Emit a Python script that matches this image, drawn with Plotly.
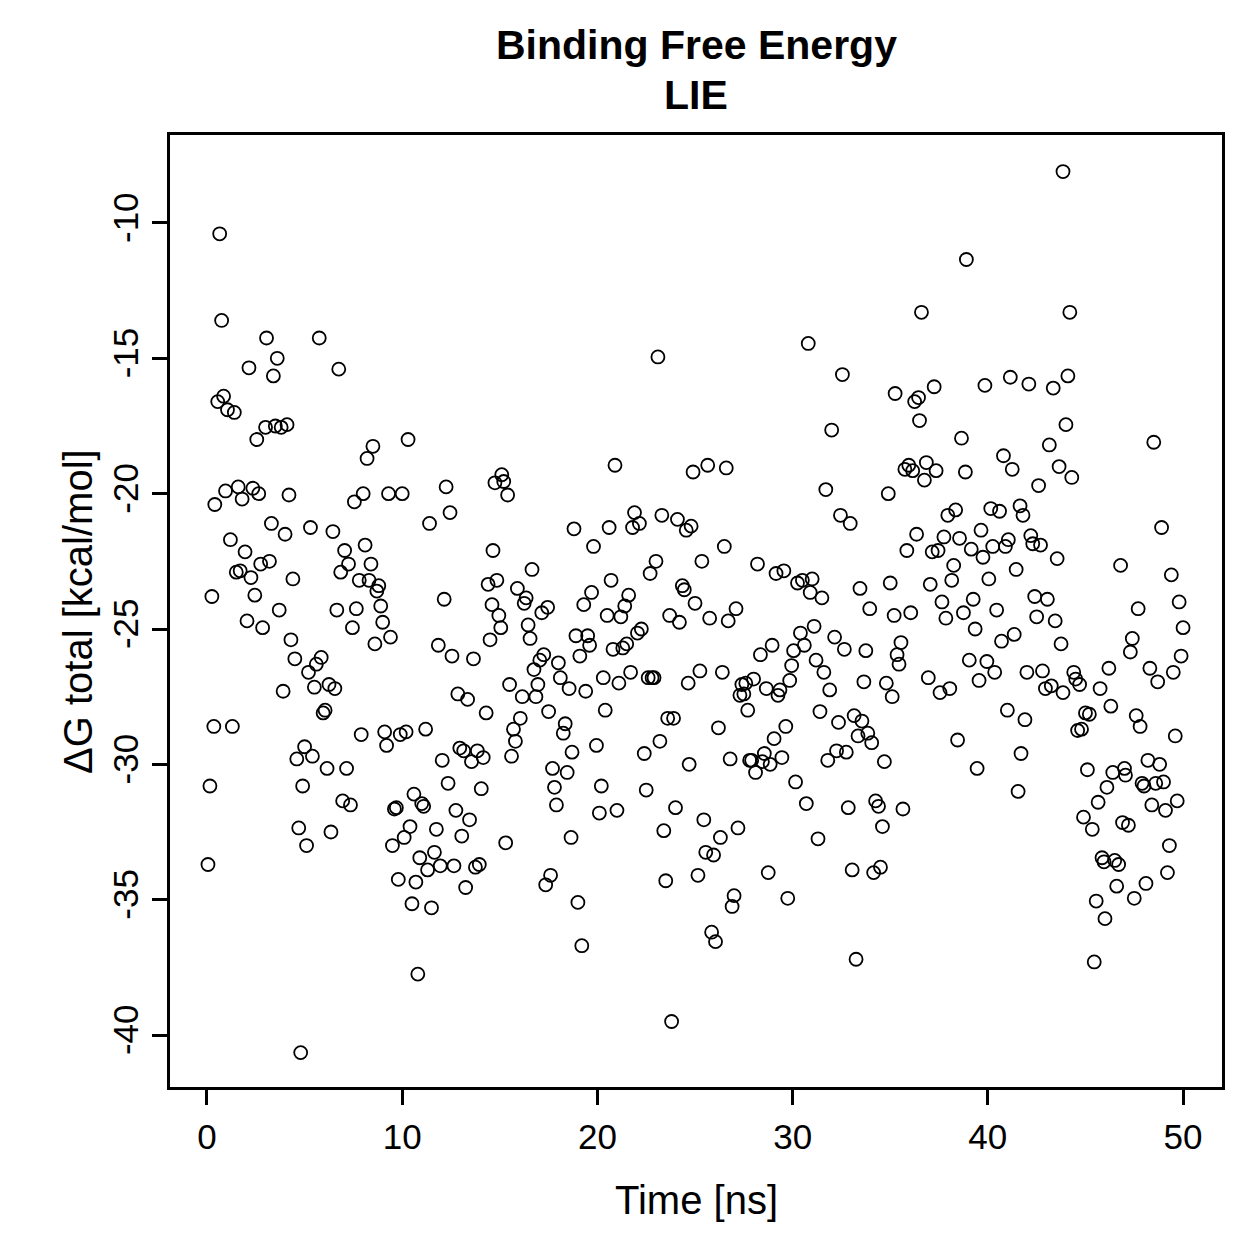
import plotly.graph_objects as go

time_ns = [0.05,0.15,0.25,0.4,0.35,0.55,0.65,0.75,0.85,0.95,1.05,1.2,1.3,1.4,1.5,1.6,1.7,1.8,1.95,2.05,
2.15,2.25,2.35,2.45,2.55,2.65,2.75,2.85,3.0,3.05,3.2,3.3,3.4,3.5,3.6,3.7,3.8,3.9,4.0,4.1,
4.2,4.3,4.4,4.5,4.6,4.7,4.8,4.9,5.0,5.1,5.2,5.3,5.4,5.5,5.6,5.75,5.85,5.95,6.05,6.15,
6.25,6.35,6.45,6.55,6.65,6.75,6.85,6.95,7.05,7.15,7.25,7.35,7.45,7.55,7.65,7.8,7.9,8.0,8.1,8.2,
8.3,8.4,8.5,8.6,8.7,8.8,8.9,9.0,9.1,9.2,9.3,9.4,9.5,9.6,9.7,9.8,9.9,10.0,10.1,10.2,
10.3,10.4,10.5,10.6,10.7,10.8,10.9,11.0,11.1,11.2,11.3,11.4,11.5,11.65,11.75,11.85,11.95,12.05,12.15,12.25,
12.35,12.45,12.55,12.65,12.75,12.85,12.95,13.05,13.15,13.25,13.35,13.45,13.55,13.65,13.75,13.85,13.95,14.05,14.15,14.3,
14.4,14.5,14.6,14.65,14.75,14.85,14.95,15.05,15.1,15.2,15.3,15.4,15.5,15.6,15.7,15.8,15.9,16.05,16.15,16.25,
16.35,16.45,16.55,16.65,16.75,16.85,16.95,17.05,17.15,17.25,17.35,17.45,17.5,17.6,17.7,17.8,17.9,18.0,18.1,18.25,
18.35,18.45,18.55,18.65,18.7,18.8,18.9,19.0,19.1,19.2,19.3,19.4,19.5,19.6,19.7,19.8,19.95,20.1,20.2,20.3,
20.4,20.5,20.6,20.7,20.8,20.9,21.0,21.1,21.2,21.3,21.4,21.5,21.6,21.7,21.8,21.9,22.05,22.15,22.25,22.4,
22.5,22.6,22.7,22.8,22.9,23.0,23.1,23.2,23.3,23.4,23.5,23.6,23.7,23.8,23.9,24.0,24.1,24.2,24.35,24.45,
24.55,24.65,24.7,24.8,24.9,25.0,25.15,25.25,25.35,25.45,25.55,25.65,25.75,25.85,25.95,26.05,26.2,26.3,26.4,26.5,
26.6,26.7,26.8,26.9,27.0,27.1,27.2,27.3,27.4,27.5,27.6,27.7,27.8,27.9,28.0,28.1,28.2,28.35,28.45,28.55,
28.65,28.75,28.85,28.95,29.05,29.15,29.25,29.35,29.45,29.55,29.65,29.75,29.85,29.95,30.05,30.15,30.25,30.4,30.5,30.6,
30.7,30.8,30.9,31.0,31.1,31.2,31.3,31.4,31.5,31.6,31.7,31.8,31.9,32.0,32.15,32.25,32.35,32.45,32.55,32.65,
32.75,32.85,32.95,33.05,33.15,33.25,33.35,33.45,33.55,33.65,33.75,33.85,33.95,34.05,34.15,34.25,34.4,34.5,34.6,34.7,
34.8,34.9,35.0,35.1,35.2,35.25,35.35,35.45,35.55,35.65,35.75,35.85,35.95,36.05,36.15,36.25,36.35,36.45,36.5,36.6,
36.75,36.85,36.95,37.05,37.15,37.25,37.35,37.45,37.55,37.65,37.75,37.85,37.95,38.05,38.15,38.25,38.35,38.45,38.55,38.65,
38.75,38.85,38.9,39.05,39.15,39.25,39.35,39.45,39.55,39.65,39.75,39.85,39.95,40.05,40.15,40.25,40.35,40.45,40.6,40.7,
40.8,40.9,41.0,41.05,41.15,41.25,41.35,41.45,41.55,41.65,41.7,41.8,41.9,42.0,42.1,42.2,42.3,42.4,42.5,42.6,
42.7,42.8,42.95,43.05,43.15,43.25,43.35,43.45,43.55,43.65,43.75,43.85,43.85,44.0,44.1,44.2,44.3,44.4,44.5,44.6,
44.7,44.8,44.9,45.0,45.1,45.2,45.35,45.45,45.55,45.65,45.75,45.85,45.95,46.0,46.1,46.2,46.3,46.4,46.5,46.6,
46.7,46.8,46.9,47.0,47.05,47.2,47.3,47.4,47.5,47.6,47.7,47.8,47.9,48.0,48.1,48.2,48.3,48.4,48.5,48.6,
48.7,48.8,48.9,49.0,49.1,49.2,49.3,49.4,49.5,49.6,49.7,49.8,49.9,50.0]

dg_total = [-33.7,-30.8,-23.8,-20.4,-28.6,-16.6,-10.4,-13.6,-16.4,-19.9,-16.9,-21.7,-28.6,-17.0,-22.9,-19.75,-22.85,-20.2,-22.15,-24.7,
-15.35,-23.1,-19.8,-23.75,-18.0,-20.0,-22.6,-24.95,-17.55,-14.25,-22.5,-21.1,-15.65,-17.5,-15.0,-24.3,-17.55,-27.3,-21.5,-17.45,
-20.05,-25.4,-23.15,-26.1,-29.8,-32.35,-40.65,-30.8,-29.35,-33.0,-26.6,-21.25,-29.7,-27.15,-26.3,-14.25,-26.05,-28.1,-28.0,-30.15,
-27.05,-32.5,-21.4,-27.2,-24.3,-15.4,-22.9,-31.35,-22.1,-30.15,-22.6,-31.5,-24.95,-20.3,-24.25,-23.2,-28.9,-20.0,-21.9,-18.7,
-23.2,-22.6,-18.25,-25.55,-23.6,-23.4,-24.15,-24.75,-28.8,-29.3,-20.0,-25.3,-33.0,-31.65,-31.6,-34.25,-28.9,-20.0,-32.7,-28.8,
-18.0,-32.3,-35.15,-31.1,-34.35,-37.75,-33.45,-31.45,-31.55,-28.7,-33.9,-21.1,-35.3,-33.25,-32.4,-25.6,-33.75,-29.85,-23.9,-19.75,
-30.7,-20.7,-26.0,-33.75,-31.7,-27.4,-29.4,-32.65,-29.5,-34.55,-27.6,-32.05,-29.9,-26.1,-33.8,-29.5,-33.7,-30.9,-29.75,-28.1,
-23.35,-25.4,-24.1,-22.1,-19.6,-23.2,-24.5,-24.95,-19.3,-19.55,-32.9,-20.05,-27.05,-29.7,-28.7,-29.15,-23.5,-28.3,-27.5,-24.05,
-23.85,-24.85,-25.35,-22.8,-26.5,-27.5,-27.05,-26.15,-24.4,-25.95,-34.45,-24.2,-28.05,-34.1,-30.15,-30.85,-31.5,-26.25,-26.8,-28.85,
-28.5,-30.3,-27.2,-32.7,-29.55,-21.3,-25.25,-35.1,-26.0,-36.7,-24.1,-27.3,-25.25,-25.6,-23.65,-21.95,-29.3,-31.8,-30.8,-26.8,
-28.0,-24.5,-21.25,-23.2,-25.75,-18.95,-31.7,-27.0,-24.55,-25.7,-24.15,-25.55,-23.75,-26.6,-21.25,-20.7,-25.15,-21.1,-25.0,-29.6,
-30.95,-26.8,-22.95,-26.8,-26.8,-22.5,-14.95,-29.15,-20.8,-32.45,-34.3,-28.3,-24.5,-39.5,-28.3,-31.6,-20.95,-24.75,-23.4,-23.55,
-21.35,-27.0,-30.0,-21.2,-19.2,-24.05,-34.1,-26.55,-22.5,-32.05,-33.25,-18.95,-24.6,-36.2,-33.35,-36.55,-28.65,-32.7,-26.6,-21.95,
-19.05,-24.7,-29.8,-35.25,-34.85,-24.25,-32.35,-27.45,-27.05,-27.4,-27.0,-28.0,-29.85,-29.85,-26.85,-30.3,-22.6,-25.95,-29.9,-29.6,
-27.2,-34.0,-30.0,-25.6,-29.05,-22.95,-27.45,-27.25,-29.75,-22.85,-28.6,-34.95,-26.9,-26.35,-25.8,-30.65,-23.3,-25.15,-23.2,-25.6,
-31.45,-14.45,-23.65,-23.15,-24.9,-26.15,-32.75,-28.05,-23.85,-26.6,-19.85,-29.85,-27.25,-17.65,-25.3,-29.5,-28.45,-20.8,-15.6,-25.75,
-29.55,-31.6,-21.1,-33.9,-28.2,-37.2,-28.95,-23.5,-28.4,-26.95,-25.8,-28.85,-24.25,-29.2,-34.0,-31.35,-31.55,-33.8,-32.3,-29.9,
-27.0,-20.0,-23.3,-27.5,-24.5,-16.3,-25.95,-26.3,-25.5,-31.65,-19.1,-22.1,-18.95,-24.4,-19.15,-16.6,-21.5,-16.45,-17.3,-13.3,
-19.5,-18.85,-26.8,-23.35,-22.15,-16.05,-19.15,-22.1,-27.35,-24.0,-21.6,-24.6,-20.8,-27.2,-23.2,-22.65,-20.6,-29.1,-21.65,-17.95,
-24.4,-19.2,-11.35,-26.15,-22.05,-23.9,-25.0,-30.15,-26.9,-21.35,-22.35,-16.0,-26.2,-23.15,-20.55,-21.95,-26.6,-24.3,-20.65,-25.45,
-18.6,-21.95,-28.0,-21.7,-15.7,-19.1,-25.2,-22.8,-31.0,-20.45,-29.6,-20.8,-28.35,-26.6,-15.95,-21.55,-21.85,-23.8,-24.55,-19.7,
-21.9,-26.55,-27.2,-23.9,-18.2,-27.1,-16.1,-24.7,-22.4,-19.0,-25.55,-27.35,-8.1,-17.45,-15.65,-13.3,-19.4,-26.6,-26.85,-28.75,
-27.05,-28.7,-31.95,-28.1,-30.2,-28.15,-32.4,-37.3,-35.05,-31.4,-27.2,-33.45,-33.6,-35.7,-30.85,-26.45,-27.85,-30.3,-33.55,-34.5,
-33.7,-22.65,-32.15,-30.15,-30.4,-32.25,-25.85,-25.35,-34.95,-28.2,-24.25,-28.6,-30.7,-30.8,-34.4,-29.85,-26.45,-31.5,-18.1,-30.7,
-26.95,-30.0,-21.25,-30.65,-31.7,-34.0,-33.0,-23.0,-26.6,-28.95,-31.35,-24.0,-26.0,-24.95]

x_ticks = [0, 10, 20, 30, 40, 50]
y_ticks = [-10, -15, -20, -25, -30, -35, -40]

FONT = "Liberation Sans, Arial, Helvetica, sans-serif"

fig = go.Figure(go.Scatter(
    x=time_ns, y=dg_total, mode="markers",
    marker=dict(symbol="circle-open", size=13, color="black", line=dict(width=1.8, color="black")),
    showlegend=False,
))

fig.update_layout(
    width=1259, height=1259,
    margin=dict(l=170, r=37, t=135, b=172),
    paper_bgcolor="white", plot_bgcolor="white",
    font=dict(family=FONT, size=35, color="black"),
    annotations=[
        dict(text="<b>Binding Free Energy</b>", x=0.5, y=1.0945, xref="paper", yref="paper",
             xanchor="center", yanchor="middle", showarrow=False,
             font=dict(family=FONT, size=41, color="black")),
        dict(text="<b>LIE</b>", x=0.5, y=1.042, xref="paper", yref="paper",
             xanchor="center", yanchor="middle", showarrow=False,
             font=dict(family=FONT, size=41, color="black")),
        dict(text="Time [ns]", x=0.5, y=-0.1187, xref="paper", yref="paper",
             xanchor="center", yanchor="middle", showarrow=False,
             font=dict(family=FONT, size=40, color="black")),
        dict(text="ΔG total [kcal/mol]", x=-0.0875, y=0.5, xref="paper", yref="paper",
             xanchor="center", yanchor="middle", showarrow=False, textangle=-90,
             font=dict(family=FONT, size=40, color="black")),
    ],
)

fig.update_xaxes(
    range=[-1.895, 51.995], tickvals=x_ticks, ticktext=[str(v) for v in x_ticks],
    showgrid=False, zeroline=False, showline=True, mirror=True, linecolor="black", linewidth=2.5,
    ticks="outside", ticklen=15, tickwidth=2.5, tickcolor="black", ticklabelstandoff=2,
    tickfont=dict(family=FONT, size=35, color="black"),
)
fig.update_yaxes(
    range=[-41.92, -6.75], tickvals=y_ticks, ticktext=[str(v) for v in y_ticks],
    showgrid=False, zeroline=False, showline=True, mirror=True, linecolor="black", linewidth=2.5,
    ticks="outside", ticklen=15, tickwidth=2.5, tickcolor="black", tickangle=-90, ticklabelstandoff=0,
    tickfont=dict(family=FONT, size=35, color="black"),
)

fig.write_html("out.html")
